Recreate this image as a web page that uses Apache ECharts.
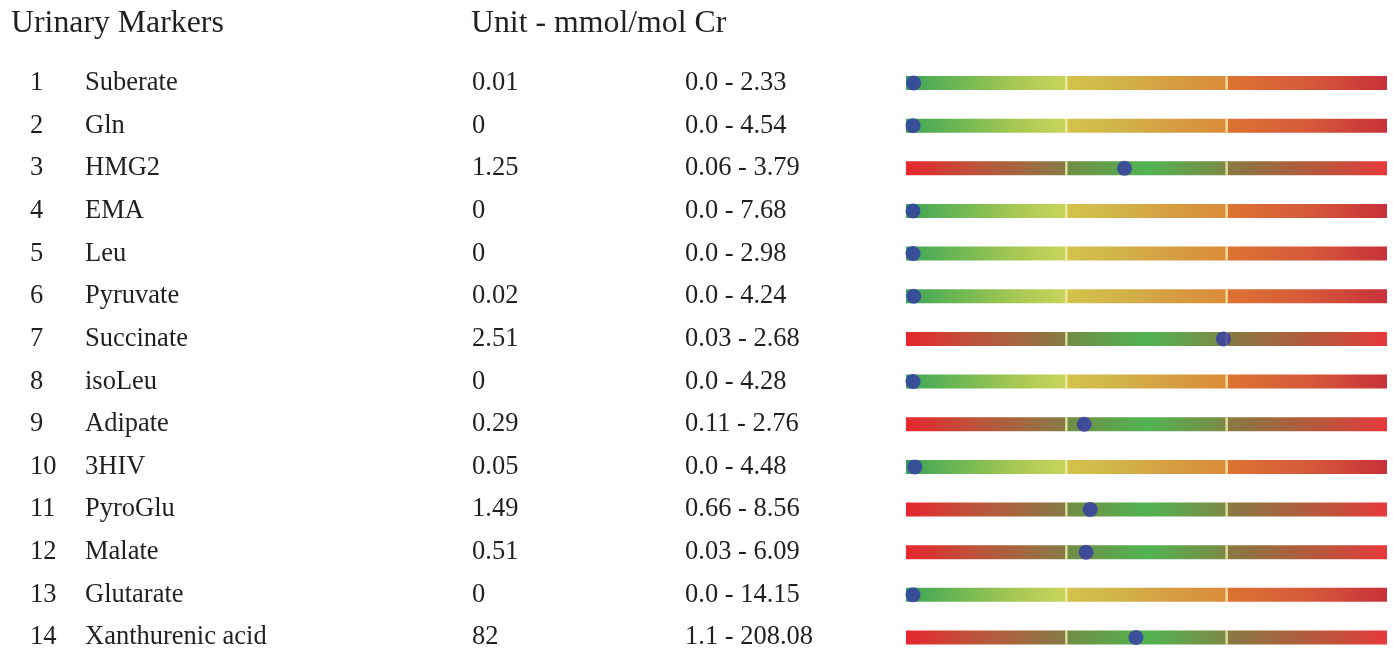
<!DOCTYPE html>
<html><head><meta charset="utf-8">
<script src="https://cdn.jsdelivr.net/npm/echarts@6/dist/echarts.min.js"></script>
<style>html,body{margin:0;padding:0;background:#fff}#c{width:1393px;height:651px}</style>
</head><body><div id="c"></div>
<script>
const indices = ['1','2','3','4','5','6','7','8','9','10','11','12','13','14'];
const markers = ['Suberate','Gln','HMG2','EMA','Leu','Pyruvate','Succinate','isoLeu','Adipate','3HIV','PyroGlu','Malate','Glutarate','Xanthurenic acid'];
const values = [0.01, 0, 1.25, 0, 0, 0.02, 2.51, 0, 0.29, 0.05, 1.49, 0.51, 0, 82];
const rangeLow = [0.0, 0.0, 0.06, 0.0, 0.0, 0.0, 0.03, 0.0, 0.11, 0.0, 0.66, 0.03, 0.0, 1.1];
const rangeHigh = [2.33, 4.54, 3.79, 7.68, 2.98, 4.24, 2.68, 4.28, 2.76, 4.48, 8.56, 6.09, 14.15, 208.08];
const headers = ['Urinary Markers', 'Unit - mmol/mol Cr'];

const FONT = 'Liberation Serif';
const TXT = '#231f20';

function grad(stops) {
  return new echarts.graphic.LinearGradient(0, 0, 1, 0, stops.map(s => ({offset: s[0], color: s[1]})));
}
const gradA = [
  grad([[0,'#3ba457'],[0.3,'#6ab653'],[0.7,'#a9c853'],[1,'#c9d45c']]),
  grad([[0,'#d3c34b'],[0.35,'#d1b249'],[0.7,'#d69a41'],[1,'#da8b3a']]),
  grad([[0,'#dd7332'],[0.5,'#d65a3a'],[1,'#c8313a']])
];
const gradB = [
  grad([[0,'#e6262c'],[0.4,'#c0513a'],[0.75,'#a06a40'],[1,'#857c45']]),
  grad([[0,'#728c45'],[0.5,'#52b352'],[1,'#7d8946']]),
  grad([[0,'#877a43'],[0.3,'#a0683f'],[0.7,'#c4503b'],[1,'#e6383b']])
];

// position on the 3-segment scale: low==0 -> first segment is the normal range, else middle segment
function pos(i) {
  const lo = rangeLow[i], hi = rangeHigh[i], v = values[i];
  if (lo === 0) return v / hi;
  return 1 + (v - lo) / (hi - lo);
}

const segSeries = [0,1,2].map(s => ({
  type: 'bar', stack: 'band', barWidth: 14, silent: true, z: 1,
  data: markers.map((m, i) => ({value: 1, itemStyle: {color: (rangeLow[i] === 0 ? gradA : gradB)[s]}}))
}));

const dividerData = [];
markers.forEach((m, i) => { dividerData.push([1, i]); dividerData.push([2, i]); });

const dotData = markers.map((m, i) => [pos(i), i]);

const rowLabels = markers.map((m, i) => {
  const lo = rangeLow[i] === 0 ? '0.0' : String(rangeLow[i]);
  return '{i|' + indices[i] + '}{n|' + m + '}{v|' + values[i] + '}{r|' + lo + ' - ' + rangeHigh[i] + '}';
});

const tok = w => ({width: w, fontSize: 26.5, fontFamily: FONT, color: TXT, align: 'left'});

const chart = echarts.init(document.getElementById('c'));
chart.setOption({
  animation: false,
  backgroundColor: '#fff',
  title: [
    {text: headers[0], left: 11, top: 8, padding: 0, textStyle: {fontFamily: FONT, fontSize: 31.8, fontWeight: 'normal', color: TXT}},
    {text: headers[1], left: 471, top: 8, padding: 0, textStyle: {fontFamily: FONT, fontSize: 31.8, fontWeight: 'normal', color: TXT}}
  ],
  grid: {left: 906, width: 481, top: 83, height: 555},
  xAxis: {type: 'value', min: 0, max: 3, show: false},
  yAxis: {
    type: 'category', inverse: true, data: rowLabels, boundaryGap: false,
    axisLine: {show: false}, axisTick: {show: false}, splitLine: {show: false},
    axisLabel: {
      margin: 0, formatter: v => v,
      rich: {i: tok(55), n: tok(387), v: tok(213), r: tok(221)}
    }
  },
  series: segSeries.concat([
    {type: 'scatter', silent: true, z: 3, symbol: 'rect', symbolSize: [2.5, 14],
     itemStyle: {color: '#f3edae'}, data: dividerData},
    {type: 'scatter', silent: true, z: 5, symbolSize: 15, symbolOffset: [7, 0],
     itemStyle: {color: '#3438aa'}, data: dotData}
  ])
});
</script></body></html>
